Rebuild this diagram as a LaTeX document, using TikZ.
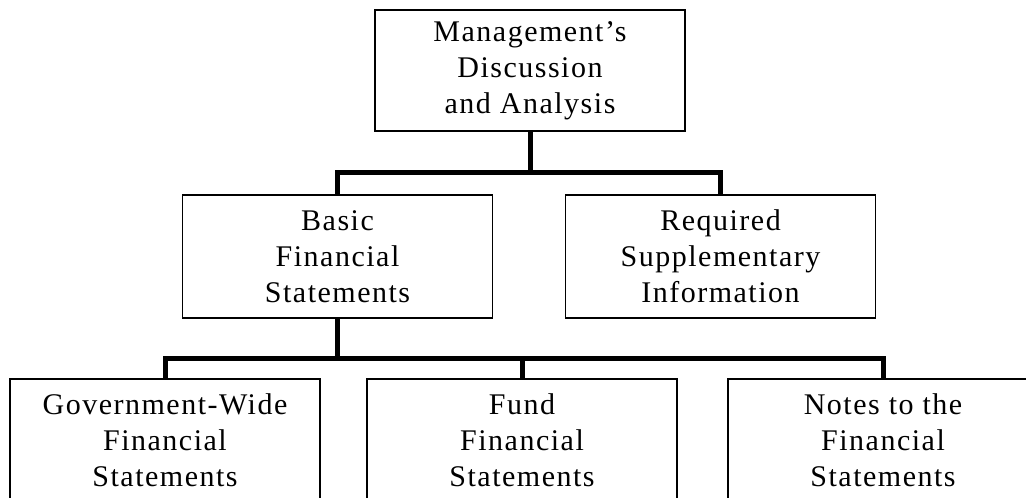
\documentclass[tikz,border=0pt]{standalone}
\usepackage{fontspec}
\setmainfont{Liberation Serif}[LetterSpace=5]

\begin{document}
\begin{tikzpicture}[x=0.5pt,y=-0.5pt]
\tikzstyle{every node}+=[inner sep=0pt]
\tikzstyle{box}=[draw=black, line width=0.7pt, minimum width=155pt, minimum height=61.5pt, align=center, font=\fontsize{15}{18}\selectfont]
\tikzstyle{link}=[draw=black, line width=2.5pt]
\clip (0,0) rectangle (1026,497);
% top level
\node [box, minimum height=60.5pt] (mda) at (530,70.5) {Management's\\Discussion\\and Analysis};
% second level
\node [box] (bfs) at (337.5,256.5) {Basic\\Financial\\Statements};
\node [box] (rsi) at (720.5,256.5) {Required\\Supplementary\\Information};
% third level
\node [box] (gwf) at (165,440.5) {Government-Wide\\Financial\\Statements};
\node [box] (ffs) at (522,440.5) {Fund\\Financial\\Statements};
\node [box] (nfs) at (883,440.5) {Notes to the\\Financial\\Statements};
% connectors
\coordinate (j1) at (530,173);
\coordinate (j2) at (337.5,358);
\draw [link] (mda.south) -- (j1);
\draw [link] (bfs.north) |- (j1) -| (rsi.north);
\draw [link] (bfs.south) -- (j2);
\draw [link] (gwf.north) |- (j2) -| (nfs.north);
\draw [link] (ffs.north) -- (ffs.north |- j2);
\end{tikzpicture}
\end{document}
